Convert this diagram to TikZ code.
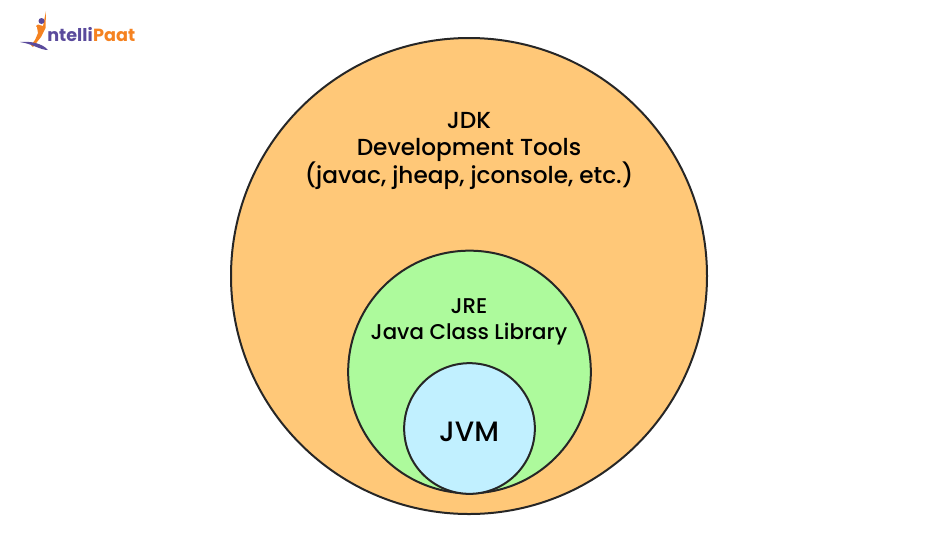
\documentclass[tikz,border=0pt]{standalone}
\usepackage{fontspec}
\setmainfont{Poppins}
\newfontfamily\labelfont{Poppins Medium}
\definecolor{jdkfill}{HTML}{FFC878}
\definecolor{jrefill}{HTML}{ADFA9C}
\definecolor{jvmfill}{HTML}{C1F0FF}
\definecolor{logopurple}{HTML}{5A4A9C}
\definecolor{logoorange}{HTML}{F58220}
\tikzset{
  ring/.style={circle,draw=black!85,line width=1.5pt,inner sep=0pt},
  biglabel/.style={anchor=base,font=\labelfont\fontsize{17.4}{20}\selectfont},
  midlabel/.style={anchor=base,font=\labelfont\fontsize{16}{18}\selectfont},
  logotext/.style={inner sep=0pt,anchor=base west,font=\fontsize{13.2}{16}\selectfont\bfseries}
}
\begin{document}
\begin{tikzpicture}[x=0.75pt,y=-0.75pt]
      \useasboundingbox (0,0) rectangle (950,551);

      \draw (469,276) node[ring,fill=jdkfill,minimum size=357pt] (jdk) {};
      \draw (469.5,372) node[ring,fill=jrefill,minimum size=182pt] (jre) {};
      \draw (469.5,428.5) node[ring,fill=jvmfill,minimum size=98pt] (jvm) {};

      \draw (469,128) node[biglabel] (jdklabel) {JDK};
      \draw (469,155.7) node[biglabel] (toolslabel) {Development Tools};
      \draw (469,183.4) node[biglabel] (cmdlabel) {(javac, jheap, jconsole, etc.)};
      \draw (469,313) node[midlabel] (jrelabel) {JRE};
      \draw (469,339) node[midlabel] (liblabel) {Java Class Library};
      \draw (469,441) node[anchor=base,font=\labelfont\fontsize{21}{26}\selectfont] (jvmlabel) {JVM};

      % logo
      \fill[logoorange] (46,11) -- (45.5,28) -- (41,37) -- (37,42) -- (33,47) -- (31,45) -- (35,40) -- (38,33) -- (37,27) -- (36,26) -- (38,24.5) -- (43,26) -- cycle;
      \fill[logopurple] (41.5,21) circle (3);
      \fill[logopurple] (20,42) .. controls (30,41) and (42,43) .. (48,50) .. controls (40,50) and (33,44) .. (20,42) -- cycle;
      \draw (47,41) node[logotext,text=logopurple] (logoleft) {ntelli};
      \draw (logoleft.base east) node[logotext,text=logoorange] (logoright) {Paat};
    \end{tikzpicture}
\end{document}
